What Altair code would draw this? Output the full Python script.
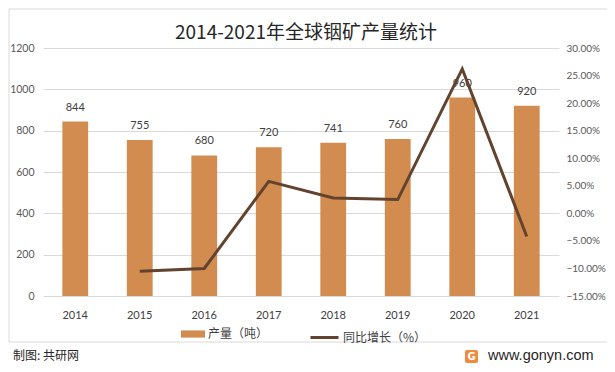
import altair as alt
import pandas as pd

years = ["2014", "2015", "2016", "2017", "2018", "2019", "2020", "2021"]
output = [844, 755, 680, 720, 741, 760, 960, 920]
growth = [None, -10.5, -10.0, 5.8, 2.8, 2.5, 26.2, -4.2]
series_bar = "产量（吨）"
series_line = "同比增长（%）"
title_text = "2014-2021年全球铟矿产量统计"
left_ticks = [0, 200, 400, 600, 800, 1000, 1200]
right_ticks = [-15, -10, -5, 0, 5, 10, 15, 20, 25, 30]

BAR_C = "#D38C4F"
LINE_C = "#614330"
CJK = "Noto Sans CJK SC"
NUM = "Lato"

df = pd.DataFrame({"year": years, "output": output, "growth": growth})
df["s1"] = series_bar
df["s2"] = series_line

xenc = alt.X("year:N", sort=years, title=None,
             scale=alt.Scale(paddingInner=0.6, paddingOuter=0.3),
             axis=alt.Axis(labelAngle=0, labelColor="#404040", labelFont=NUM,
                           labelFontSize=11, labelPadding=13, ticks=False, domain=False))

base = alt.Chart(df)

bars = base.mark_bar().encode(
    x=xenc,
    y=alt.Y("output:Q", title=None, scale=alt.Scale(domain=[0, 1200], nice=False),
            axis=alt.Axis(values=left_ticks, format="d", grid=True, gridColor="#D9D9D9",
                          labelColor="#595959", labelFont=NUM, labelFontSize=10.5,
                          labelPadding=9, ticks=False, domain=False)),
    fill=alt.Fill("s1:N", scale=alt.Scale(domain=[series_bar], range=[BAR_C]),
                  legend=alt.Legend(title=None, orient="none", legendX=138, legendY=274,
                                    symbolType="M-1,-0.3H1V0.3H-1Z", symbolSize=576,
                                    symbolStrokeWidth=0, labelFont=CJK, labelFontSize=12,
                                    labelColor="#404040", labelOffset=3)),
)

labels = base.mark_text(baseline="middle", dy=-14, font=NUM, fontSize=11, color="#404040").encode(
    x=alt.X("year:N", sort=years),
    y=alt.Y("output:Q", scale=alt.Scale(domain=[0, 1200], nice=False), axis=None),
    text=alt.Text("output:Q"),
)

line = base.mark_line(strokeWidth=3).encode(
    x=alt.X("year:N", sort=years),
    y=alt.Y("growth:Q", title=None, scale=alt.Scale(domain=[-15, 30], nice=False),
            axis=alt.Axis(orient="right", values=right_ticks, grid=False,
                          labelExpr="format(datum.value, '.2f') + '%'",
                          labelColor="#595959", labelFont=NUM, labelFontSize=10,
                          labelPadding=7, ticks=False, domain=False)),
    stroke=alt.Stroke("s2:N", scale=alt.Scale(domain=[series_line], range=[LINE_C]),
                      legend=alt.Legend(title=None, orient="none", legendX=266, legendY=274,
                                        symbolType="stroke", symbolSize=784, symbolStrokeWidth=3,
                                        labelFont=CJK, labelFontSize=12, labelColor="#404040",
                                        labelOffset=3)),
)

deco = alt.Chart(pd.DataFrame({"k": [0]}))
border = deco.mark_rect(filled=False, stroke="#D9D9D9", strokeWidth=1).encode(
    x=alt.value(-34), x2=alt.value(567), y=alt.value(-39), y2=alt.value(294))
title = deco.mark_text(align="center", baseline="middle", font=CJK, fontSize=19,
                       color="#262626").encode(
    x=alt.value(263), y=alt.value(-15), text=alt.value(title_text))
foot_l = deco.mark_text(align="left", baseline="middle", font=CJK, fontSize=12, color="#262626").encode(
    x=alt.value(-30), y=alt.value(308), text=alt.value("制图: 共研网"))
logo = deco.mark_rect(cornerRadius=2, color="#F08A3C").encode(
    x=alt.value(422), x2=alt.value(435), y=alt.value(302), y2=alt.value(315))
logo_g = deco.mark_text(align="center", baseline="middle", font="DejaVu Sans", fontSize=10,
                        fontWeight="bold", color="white").encode(
    x=alt.value(428.5), y=alt.value(308.5), text=alt.value("G"))
foot_r = deco.mark_text(align="left", baseline="middle", font="Liberation Sans", fontSize=14.5,
                        color="#262626").encode(
    x=alt.value(445), y=alt.value(308), text=alt.value("www.gonyn.com"))

chart = alt.layer(bars, labels, line, border, title, foot_l, logo, logo_g, foot_r).resolve_scale(
    y="independent"
).properties(
    width=516, height=248,
    autosize=alt.AutoSizeParams(type="none"),
    padding={"left": 35, "top": 40, "right": 48, "bottom": 68},
).configure_view(stroke=None)

chart.save("out.html", embed_options={"renderer": "svg", "actions": False})
